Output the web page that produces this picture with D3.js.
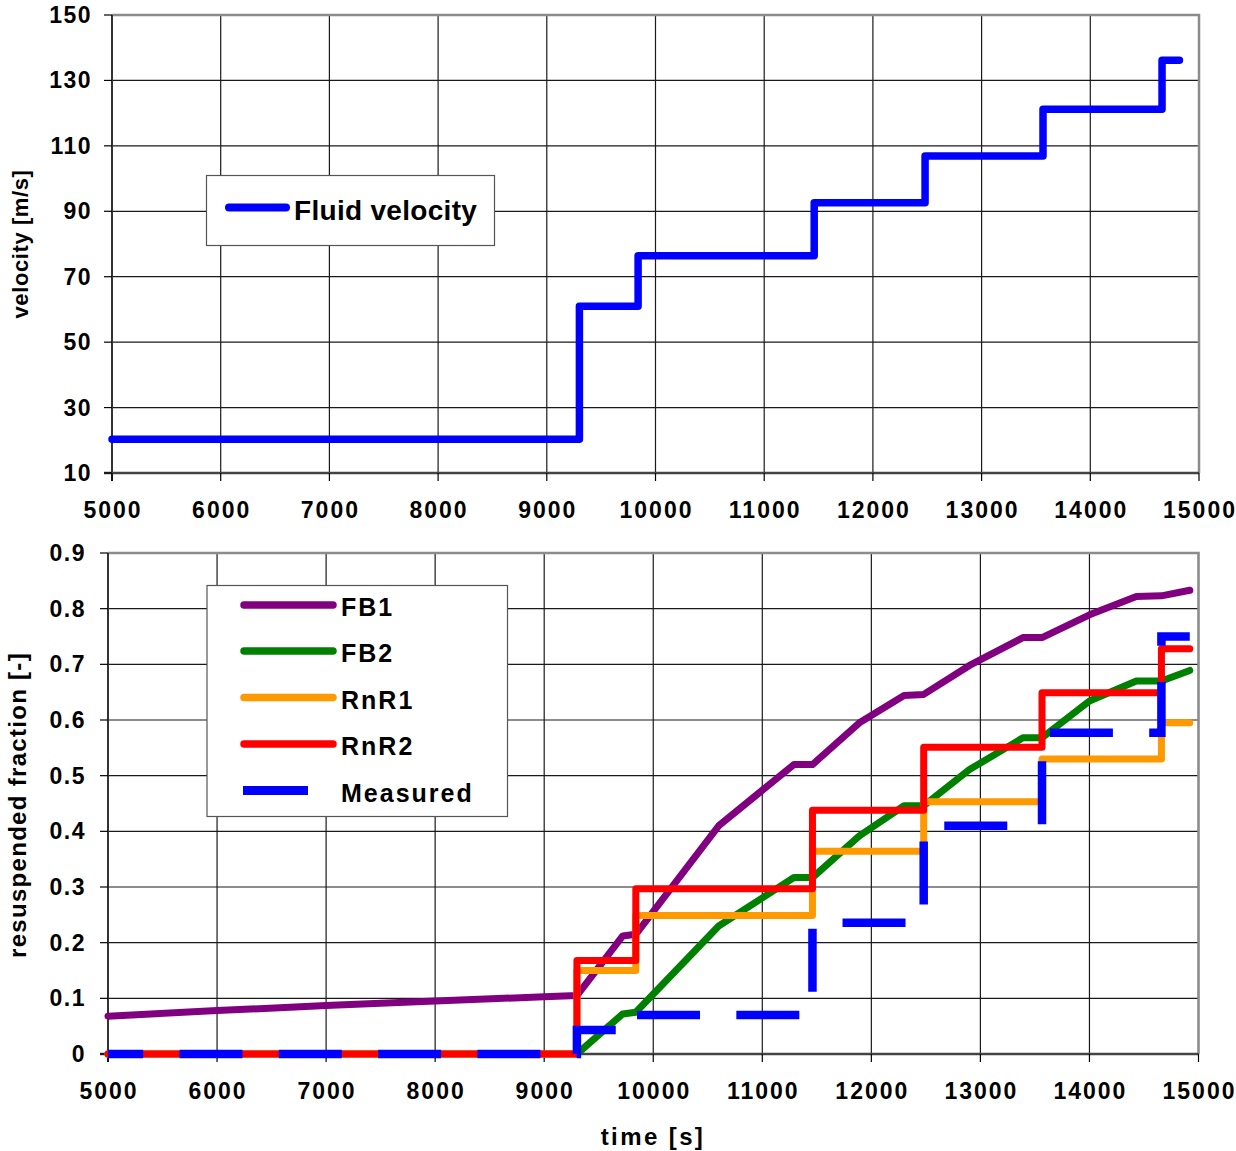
<!DOCTYPE html>
<html>
<head>
<meta charset="utf-8">
<script src="https://cdn.jsdelivr.net/npm/d3@7"></script>
<style>
  html, body { margin: 0; padding: 0; background: #fff; }
  svg { display: block; }
  text { font-family: "Liberation Sans", Arial, sans-serif; font-weight: bold; fill: #000; }
</style>
</head>
<body>
<svg id="chart" width="1236" height="1151"></svg>
<script>
// ---- Data ----------------------------------------------------------------
// Flow steps: start time of each velocity plateau [s]
const stepTimes = [5000, 9300, 9840, 11460, 12480, 13565, 14660];
// Fluid velocity on each plateau [m/s]
const velocityLevels = [20.3, 61.0, 76.4, 92.6, 106.9, 121.2, 136.2];
const velocityEnd = 14820;

// Resuspended fraction, step-wise models and measurement (one value per plateau)
const rnr1Levels = [0, 0.150, 0.249, 0.364, 0.453, 0.530, 0.595];
const rnr2Levels = [0, 0.168, 0.297, 0.438, 0.551, 0.649, 0.728];
const measuredLevels = [0, 0.043, 0.070, 0.236, 0.410, 0.577, 0.750];
const fractionEnd = 14920;

// Force-balance models, evaluated at these times
const fbTimes = [5000, 6000, 7000, 8000, 9000, 9300, 9720, 9840, 10600, 11290, 11460,
                 11890, 12300, 12480, 12900, 13390, 13565, 14000, 14430, 14660, 14920];
const fb1Values = [0.068, 0.078, 0.087, 0.095, 0.103, 0.105, 0.212, 0.215, 0.410, 0.520, 0.520,
                   0.595, 0.644, 0.646, 0.698, 0.748, 0.748, 0.789, 0.822, 0.823, 0.833];
const fb2Values = [0, 0, 0, 0, 0, 0, 0.072, 0.075, 0.230, 0.317, 0.317,
                   0.392, 0.446, 0.446, 0.511, 0.568, 0.568, 0.634, 0.670, 0.670, 0.689];

// Axis ticks
const timeTicks = [5000, 6000, 7000, 8000, 9000, 10000, 11000, 12000, 13000, 14000, 15000];
const velocityTicks = [10, 30, 50, 70, 90, 110, 130, 150];
const fractionTicks = [0, 0.1, 0.2, 0.3, 0.4, 0.5, 0.6, 0.7, 0.8, 0.9];

const svg = d3.select("#chart");

// step-series helper: plateau levels -> points, closed with a final point
function stepPoints(times, levels, endTime) {
  const pts = times.map((t, i) => [t, levels[i]]);
  pts.push([endTime, levels[levels.length - 1]]);
  return pts;
}

// shared frame drawing (grid, axes, labels)
function drawFrame(g, x, y, xTicks, yTicks, yFmt, opts) {
  const [x0, x1] = x.range();
  const [yb, yt] = y.range();
  // horizontal grid
  g.selectAll(".hgrid").data(yTicks).join("line")
    .attr("x1", x0).attr("x2", x1)
    .attr("y1", d => y(d)).attr("y2", d => y(d))
    .attr("stroke", "#1a1a1a").attr("stroke-width", 1.2);
  // vertical grid
  g.selectAll(".vgrid").data(xTicks).join("line")
    .attr("y1", yt).attr("y2", yb)
    .attr("x1", d => x(d)).attr("x2", d => x(d))
    .attr("stroke", "#1a1a1a").attr("stroke-width", 1.2);
  // top and right border
  g.append("path")
    .attr("d", `M${x0},${yt}H${x1}V${yb}`)
    .attr("fill", "none").attr("stroke", "#8c8c8c").attr("stroke-width", 2.5);
  // left and bottom axis lines
  g.append("line").attr("x1", x0).attr("x2", x0).attr("y1", yt).attr("y2", yb + 8)
    .attr("stroke", "#333").attr("stroke-width", 2);
  g.append("line").attr("x1", x0 - 8).attr("x2", x1).attr("y1", yb).attr("y2", yb)
    .attr("stroke", "#444").attr("stroke-width", 2.5);
  // tick marks
  g.selectAll(".ytick").data(yTicks).join("line")
    .attr("x1", x0 - 8).attr("x2", x0)
    .attr("y1", d => y(d)).attr("y2", d => y(d))
    .attr("stroke", "#000").attr("stroke-width", 1.2);
  g.selectAll(".xtick").data(xTicks).join("line")
    .attr("y1", yb).attr("y2", yb + 8)
    .attr("x1", d => x(d)).attr("x2", d => x(d))
    .attr("stroke", "#000").attr("stroke-width", 1.2);
  // tick labels
  g.selectAll(".ylab").data(yTicks).join("text")
    .attr("x", x0 - opts.yLabelGap).attr("y", d => y(d) + 8)
    .attr("text-anchor", "end")
    .style("font-size", "23px").style("letter-spacing", "1.5px")
    .text(yFmt);
  g.selectAll(".xlab").data(xTicks).join("text")
    .attr("x", d => x(d) + 1).attr("y", yb + 45)
    .attr("text-anchor", "middle")
    .style("font-size", "23px").style("letter-spacing", "2px")
    .text(d => d);
}

// ---- Upper panel: fluid velocity ----------------------------------------
const xTop = d3.scaleLinear().domain([5000, 15000]).range([112, 1199]);
const yTop = d3.scaleLinear().domain([10, 150]).range([473, 15]);
const gTop = svg.append("g");
drawFrame(gTop, xTop, yTop, timeTicks, velocityTicks, d => d, { yLabelGap: 20 });

gTop.append("path")
  .datum(stepPoints(stepTimes, velocityLevels, velocityEnd))
  .attr("d", d3.line().x(d => xTop(d[0])).y(d => yTop(d[1])).curve(d3.curveStepAfter))
  .attr("fill", "none").attr("stroke", "#0000ff").attr("stroke-width", 7.5)
  .attr("stroke-linejoin", "round").attr("stroke-linecap", "round");

gTop.append("text")
  .attr("transform", "translate(28,244) rotate(-90)")
  .attr("text-anchor", "middle")
  .style("font-size", "22px").style("letter-spacing", "0.6px")
  .text("velocity [m/s]");

// legend
const legTop = gTop.append("g");
legTop.append("rect").attr("x", 206.5).attr("y", 175.5).attr("width", 288).attr("height", 70)
  .attr("fill", "#fff").attr("stroke", "#555").attr("stroke-width", 1.2);
legTop.append("line").attr("x1", 229).attr("x2", 286).attr("y1", 207.5).attr("y2", 207.5)
  .attr("stroke", "#0000ff").attr("stroke-width", 8).attr("stroke-linecap", "round");
legTop.append("text").attr("x", 294).attr("y", 219.5)
  .style("font-size", "28px").style("letter-spacing", "0.3px")
  .text("Fluid velocity");

// ---- Lower panel: resuspended fraction ----------------------------------
const xBot = d3.scaleLinear().domain([5000, 15000]).range([108, 1198.5]);
const yBot = d3.scaleLinear().domain([0, 0.9]).range([1054, 553]);
const gBot = svg.append("g");
drawFrame(gBot, xBot, yBot, timeTicks, fractionTicks, d => d === 0 ? "0" : d.toFixed(1), { yLabelGap: 22 });

const lineLinear = d3.line().x(d => xBot(d[0])).y(d => yBot(d[1]));
const lineStep = d3.line().x(d => xBot(d[0])).y(d => yBot(d[1])).curve(d3.curveStepAfter);

const series = [
  { name: "FB1", color: "#800080", pts: fbTimes.map((t, i) => [t, fb1Values[i]]), gen: lineLinear },
  { name: "FB2", color: "#008000", pts: fbTimes.map((t, i) => [t, fb2Values[i]]), gen: lineLinear },
  { name: "RnR1", color: "#ff9900", pts: stepPoints(stepTimes, rnr1Levels, fractionEnd), gen: lineStep },
  { name: "RnR2", color: "#ff0000", pts: stepPoints(stepTimes, rnr2Levels, fractionEnd), gen: lineStep },
  { name: "Measured", color: "#0000ff", pts: stepPoints(stepTimes, measuredLevels, fractionEnd), gen: lineStep, dashed: true }
];

series.forEach(s => {
  const p = gBot.append("path")
    .datum(s.pts)
    .attr("d", s.gen)
    .attr("fill", "none")
    .attr("stroke", s.color);
  if (s.dashed) {
    // long-dash style
    p.attr("stroke-width", 8.5)
     .attr("stroke-dasharray", "63,36.3")
     .attr("stroke-dashoffset", 27.8)
     .attr("stroke-linecap", "butt");
  } else {
    p.attr("stroke-width", 7)
     .attr("stroke-linejoin", "round")
     .attr("stroke-linecap", "round");
  }
});

gBot.append("text")
  .attr("transform", "translate(26,805) rotate(-90)")
  .attr("text-anchor", "middle")
  .style("font-size", "24px").style("letter-spacing", "1.3px")
  .text("resuspended fraction [-]");

gBot.append("text")
  .attr("x", 653).attr("y", 1145)
  .attr("text-anchor", "middle")
  .style("font-size", "24px").style("letter-spacing", "2.4px")
  .text("time [s]");

// legend
const legBot = gBot.append("g");
legBot.append("rect").attr("x", 207).attr("y", 585.5).attr("width", 300.5).attr("height", 231)
  .attr("fill", "#fff").attr("stroke", "#555").attr("stroke-width", 1.2);
const rowY = [605, 651, 697.5, 744, 790.5];
series.forEach((s, i) => {
  if (s.dashed) {
    legBot.append("line").attr("x1", 243).attr("x2", 308).attr("y1", rowY[i]).attr("y2", rowY[i])
      .attr("stroke", s.color).attr("stroke-width", 9).attr("stroke-linecap", "butt");
  } else {
    legBot.append("line").attr("x1", 244).attr("x2", 333).attr("y1", rowY[i]).attr("y2", rowY[i])
      .attr("stroke", s.color).attr("stroke-width", 7.5).attr("stroke-linecap", "round");
  }
  legBot.append("text").attr("x", 341).attr("y", rowY[i] + 11)
    .style("font-size", "25px").style("letter-spacing", "2px")
    .text(s.name);
});
</script>
</body>
</html>
